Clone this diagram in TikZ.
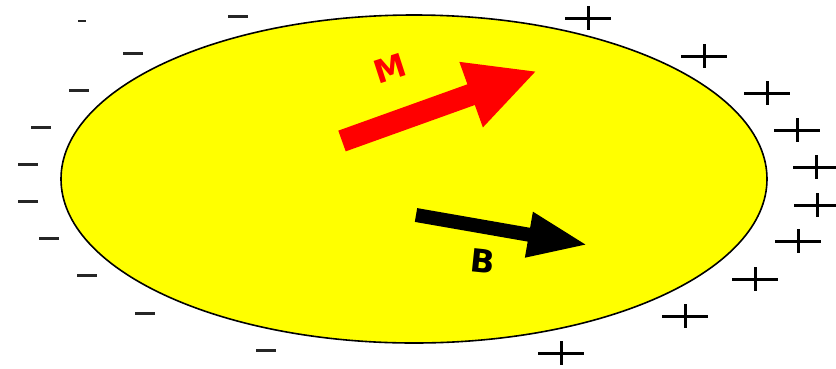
\documentclass[tikz,border=0pt]{standalone}
\usepackage{fontspec}
\setsansfont{DejaVu Sans}
\usetikzlibrary{arrows.meta}
\definecolor{bodyyellow}{RGB}{255,255,0}
\definecolor{momred}{RGB}{255,0,0}

\begin{document}
\begin{tikzpicture}[x=1pt, y=-1pt, font=\sffamily\bfseries\fontsize{32}{34}\selectfont]
  \useasboundingbox (0,0) rectangle (836,368);
  % magnetised body
  \draw[fill=bodyyellow, line width=1.6pt] (414,179) ellipse (353 and 164);
  % negative surface charges
  \foreach \px/\py in {238/16,133/53,79/90,41/127,28/164,28/201,49/238,87/275,145/313,266/350} {
    \draw[line width=3pt, black!85] (\px-10,\py) -- (\px+10,\py);
  }
  \draw[line width=2.5pt, black!85] (78,21) -- (86,21);
  % positive surface charges
  \foreach \px/\py in {588/18,704/56,767/93,797/130,816/167,817/205,798/241,755/279,685/316,561/353} {
    \draw[line width=3pt] (\px-23,\py) -- (\px+23,\py);
    \draw[line width=3pt] (\px,\py-12) -- (\px,\py+12);
  }
  % magnetisation M
  \coordinate (Mtail) at (342,141);
  \coordinate (Mtip) at (537,71);
  \draw[momred, line width=22pt, -{Triangle[length=70pt, width=64pt]}] (Mtail) -- (Mtip);
  \node[text=momred, rotate=18] (Mlabel) at (390,68) {M};
  % field B
  \coordinate (Btail) at (416,215);
  \coordinate (Btip) at (588,245);
  \draw[line width=14pt, -{Triangle[length=60pt, width=42pt]}] (Btail) -- (Btip);
  \node[rotate=-6] (Blabel) at (483,261) {B};
\end{tikzpicture}
\end{document}
